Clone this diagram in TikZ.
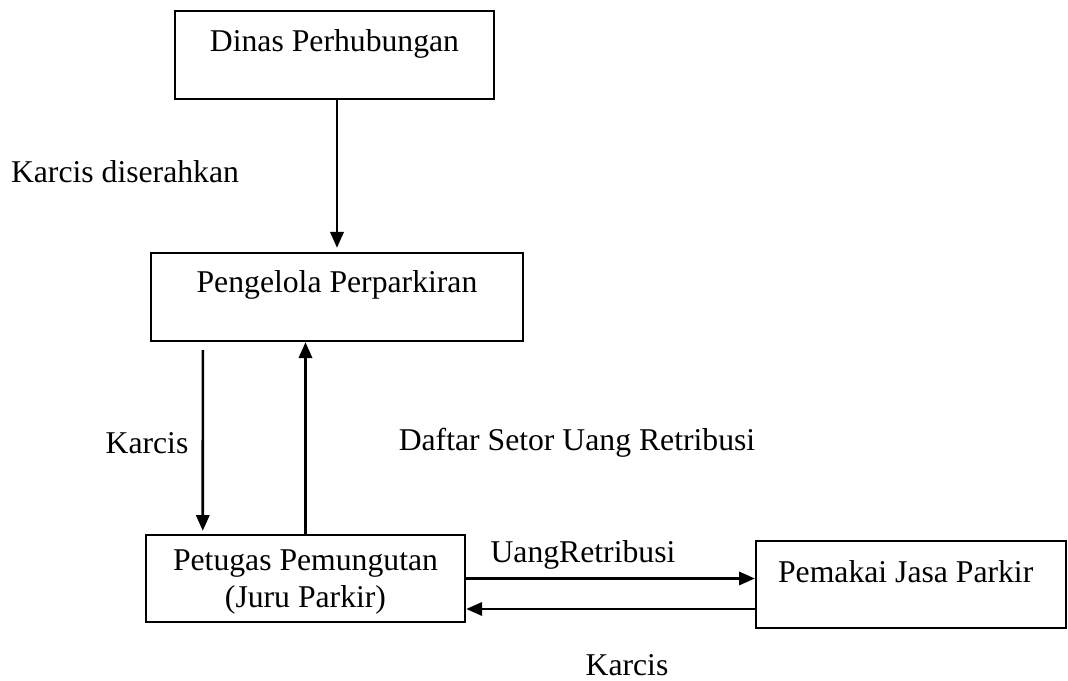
\documentclass[tikz,border=0pt]{standalone}
\usepackage{fontspec}
\setmainfont{Liberation Serif}
\usetikzlibrary{arrows.meta,calc}

\begin{document}
\begin{tikzpicture}[x=0.3786pt,y=-0.3786pt,
  font=\fontsize{12}{14}\selectfont,
  kotak/.style={draw,line width=0.9pt,inner sep=0pt},
  panah/.style={line width=1pt,-{Triangle[length=6pt,width=5pt]}}]
\useasboundingbox (0,0) rectangle (1068,681);
% kotak
\node[kotak,minimum width=120.8pt,minimum height=33.3pt,
  label={[anchor=center,yshift=-13pt]above:Dinas Perhubungan}] (dinas) at (334.5,55) {};
\node[kotak,minimum width=140.8pt,minimum height=33.3pt,
  label={[anchor=center,yshift=-12.6pt]above:Pengelola Perparkiran}] (pengelola) at (337,297) {};
\node[kotak,minimum width=120.8pt,minimum height=32.9pt,
  label={[anchor=center,align=center,yshift=-18.4pt]above:Petugas Pemungutan\\(Juru Parkir)}] (petugas) at (305.5,578.5) {};
\node[kotak,minimum width=117.3pt,minimum height=32.9pt,
  label={[anchor=center,xshift=-2pt,yshift=-12pt]above:Pemakai Jasa Parkir}] (pemakai) at (911,584.5) {};
% panah
\draw[panah] (dinas.south -| pengelola.north) -- ($(pengelola.north)+(0,-4)$);
\draw[panah] ($(pengelola.south west)+(53,8)$) -- ($(petugas.north west)+(58,-3)$);
\draw[panah] (petugas.north) -- (petugas.north |- pengelola.south);
\draw[panah] (petugas.east) -- (petugas.east -| pemakai.west);
\draw[panah] ($(pemakai.west)+(0,24.5)$) -- ($(petugas.east)+(0,30.5)$);
% keterangan
\node (ketserah) at (125,172) {Karcis diserahkan};
\node (ketkarcis) at (147,443) {Karcis};
\node (ketsetor) at (577,443) {Daftar Setor Uang Retribusi};
\node (ketuang) at (583,555) {UangRetribusi};
\node (ketbawah) at (627,665) {Karcis};
\end{tikzpicture}
\end{document}
